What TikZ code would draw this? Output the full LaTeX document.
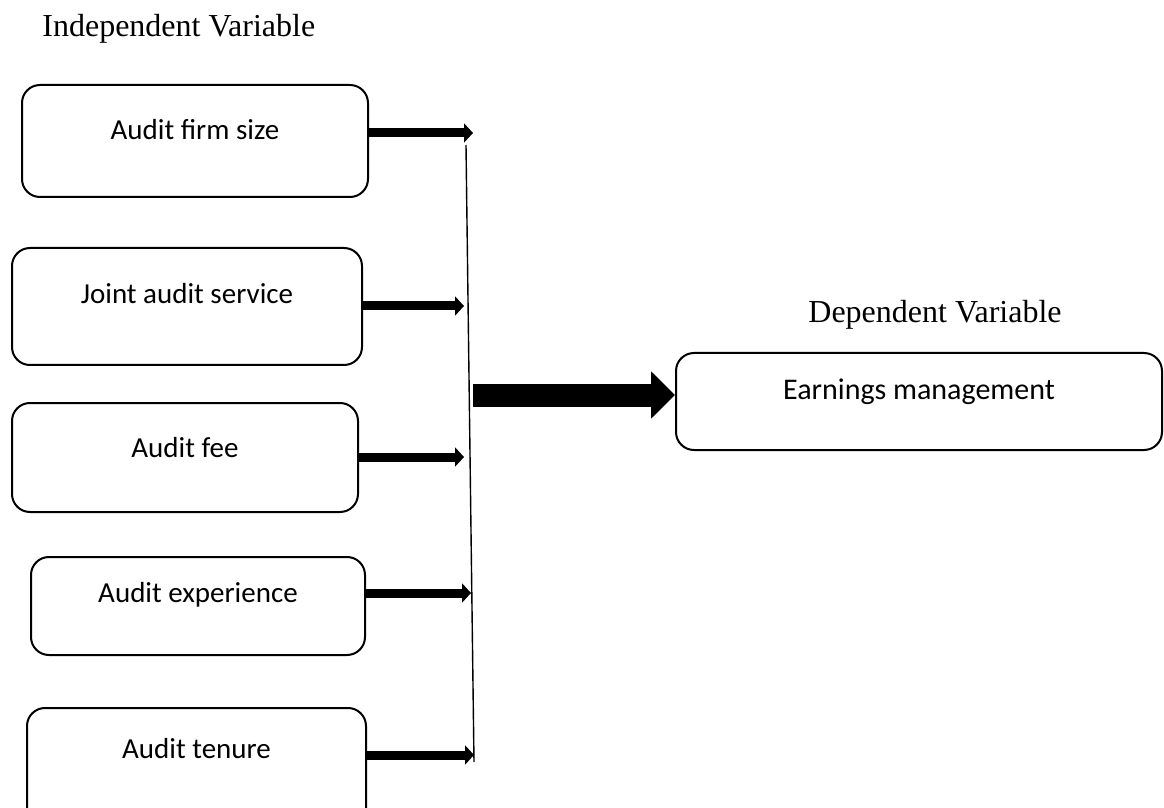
\documentclass[tikz,border=0pt]{standalone}
\usepackage{fontspec}
\setmainfont{Liberation Serif}
\newfontfamily\boxfont{Carlito}
\usetikzlibrary{arrows.meta}
\tikzset{
  box/.style={draw, line width=1pt, rounded corners=9pt, inner sep=0pt, anchor=base,
    font=\boxfont\fontsize{14.5pt}{17pt}\selectfont},
  heading/.style={inner sep=0pt, anchor=base west, font=\fontsize{16pt}{19pt}\selectfont},
  smallarrow/.style={line width=4.5pt, -{Triangle[length=4.5pt,width=9.5pt]}},
  bigarrow/.style={line width=11.5pt, -{Triangle[length=12pt,width=23pt]}},
  stem/.style={line width=0.7pt}
}
\begin{document}
\begin{tikzpicture}[x=0.5pt,y=-0.5pt]
\fill[white] (0,0) rectangle (1164,808);
\clip (0,0) rectangle (1164,808);
\node[heading] (hind) at (42,37) {Independent Variable};
\node[heading] (hdep) at (808,322) {Dependent Variable};

\node[box, minimum width=173pt, text height=27.5pt, text depth=28.5pt] (b1) at (195,140) {Audit firm size};
\node[box, minimum width=175pt, text height=28pt, text depth=30.5pt] (b2) at (187,304) {Joint audit service};
\node[box, minimum width=173pt, text height=27.5pt, text depth=27pt] (b3) at (185,458) {Audit fee};
\node[box, minimum width=167pt, text height=22.5pt, text depth=26.5pt] (b4) at (198,602) {Audit experience};
\node[box, minimum width=169.5pt, text height=25pt, text depth=36pt] (b5) at (196.5,758) {Audit tenure};
\node[box, minimum width=243pt, text height=23.5pt, text depth=25pt,
  font=\boxfont\fontsize{15pt}{18pt}\selectfont] (em) at (919,400) {Earnings management};

\coordinate (p1) at (473,133);
\coordinate (p2) at (464,306);
\coordinate (p3) at (464,457);
\coordinate (p4) at (471,593);
\coordinate (p5) at (474,755);
\draw[smallarrow] (b1.east |- p1) -- (p1);
\draw[smallarrow] (b2.east |- p2) -- (p2);
\draw[smallarrow] (b3.east |- p3) -- (p3);
\draw[smallarrow] (b4.east |- p4) -- (p4);
\draw[smallarrow] (b5.east |- p5) -- (p5);

\coordinate (vtop) at (466,145);
\coordinate (vbot) at (474,762);
\draw[stem] (vtop) -- (vbot);

\coordinate (bs) at (473,395);
\draw[bigarrow] (bs) -- (em.west |- bs);
\end{tikzpicture}
\end{document}
